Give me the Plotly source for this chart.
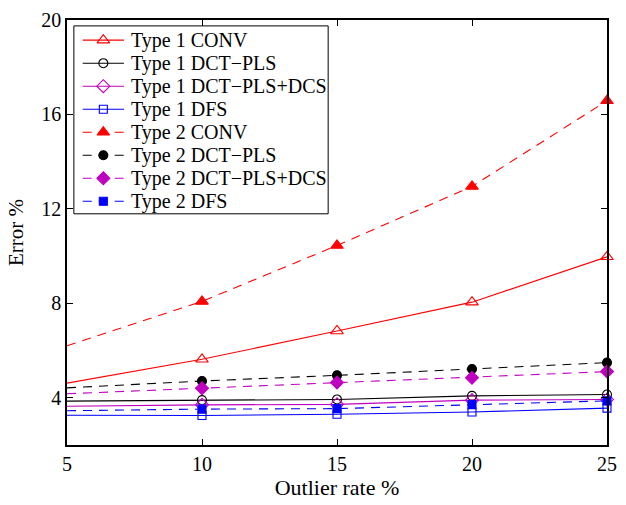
import plotly.graph_objects as go

# Outlier rate (%) on the x axis
outlier_rate = [5, 10, 15, 20, 25]

# Error (%) per method; markers are shown from 10 % onwards
t1_conv = [4.62, 5.63, 6.83, 8.05, 9.97]
t1_dct_pls = [3.86, 3.90, 3.93, 4.08, 4.14]
t1_dct_pls_dcs = [3.64, 3.70, 3.72, 3.90, 3.93]
t1_dfs = [3.26, 3.25, 3.30, 3.40, 3.56]
t2_conv = [6.20, 8.08, 10.45, 12.95, 16.58]
t2_dct_pls = [4.42, 4.71, 4.95, 5.22, 5.49]
t2_dct_pls_dcs = [4.17, 4.40, 4.65, 4.85, 5.11]
t2_dfs = [3.45, 3.52, 3.54, 3.71, 3.87]

RED = "#ff0000"
BLACK = "#000000"
MAGENTA = "#bf00bf"
BLUE = "#0000ff"
DASH = "9px,7px"
SERIF = "Liberation Serif, Times New Roman, Times, DejaVu Serif, serif"

series = [
    ("Type 1 CONV", t1_conv, RED, "solid", "triangle-up-open", 11),
    ("Type 1 DCT\u2212PLS", t1_dct_pls, BLACK, "solid", "circle-open", 9),
    ("Type 1 DCT\u2212PLS+DCS", t1_dct_pls_dcs, MAGENTA, "solid", "diamond-open", 10),
    ("Type 1 DFS", t1_dfs, BLUE, "solid", "square-open", 8),
    ("Type 2 CONV", t2_conv, RED, DASH, "triangle-up", 11),
    ("Type 2 DCT\u2212PLS", t2_dct_pls, BLACK, DASH, "circle", 9),
    ("Type 2 DCT\u2212PLS+DCS", t2_dct_pls_dcs, MAGENTA, DASH, "diamond", 10),
    ("Type 2 DFS", t2_dfs, BLUE, DASH, "square", 8),
]

# Figure geometry (pixels)
W, H = 626, 505
L, R, T, B = 67, 9, 15, 58

fig = go.Figure()
for name, ys, color, dash, symbol, size in series:
    # full line, including the 5 % point
    fig.add_trace(go.Scatter(
        x=outlier_rate, y=ys, mode="lines", showlegend=False,
        line=dict(color=color, width=1.1, dash=dash), hoverinfo="skip",
    ))
    # markers from 10 % onwards
    fig.add_trace(go.Scatter(
        x=outlier_rate[1:], y=ys[1:], mode="markers", name=name,
        showlegend=False, cliponaxis=False,
        marker=dict(symbol=symbol, size=size, color=color,
                    line=dict(color=color, width=1.1)),
    ))

# Legend box drawn on an overlay axis measured in pixels, so that the
# row spacing can be kept compact.
LEG_LEFT, LEG_RIGHT, LEG_TOP, LEG_BOTTOM = 74, 333, 21, 212
ROW0, ROW_STEP = 35.5, 23.4
SAMPLE_X0, SAMPLE_X1, TEXT_X = 83, 125, 130

fig.add_trace(go.Scatter(
    x=[LEG_LEFT, LEG_RIGHT, LEG_RIGHT, LEG_LEFT, LEG_LEFT],
    y=[LEG_TOP, LEG_TOP, LEG_BOTTOM, LEG_BOTTOM, LEG_TOP],
    xaxis="x2", yaxis="y2", mode="lines", fill="toself",
    fillcolor="white", line=dict(color="black", width=1),
    showlegend=False, hoverinfo="skip",
))

annotations = []
for i, (name, ys, color, dash, symbol, size) in enumerate(series):
    yrow = ROW0 + i * ROW_STEP
    fig.add_trace(go.Scatter(
        x=[SAMPLE_X0, SAMPLE_X1], y=[yrow, yrow], xaxis="x2", yaxis="y2",
        mode="lines", line=dict(color=color, width=1.1, dash=dash),
        showlegend=False, hoverinfo="skip",
    ))
    fig.add_trace(go.Scatter(
        x=[(SAMPLE_X0 + SAMPLE_X1) / 2], y=[yrow], xaxis="x2", yaxis="y2",
        mode="markers", showlegend=False, hoverinfo="skip",
        marker=dict(symbol=symbol, size=size, color=color,
                    line=dict(color=color, width=1.1)),
    ))
    annotations.append(dict(
        x=TEXT_X, y=yrow, xref="x2", yref="y2", text=name, showarrow=False,
        xanchor="left", yanchor="middle",
        font=dict(family=SERIF, size=20, color="black"),
    ))

axis_common = dict(
    showline=True, linecolor="black", linewidth=1.5, mirror="ticks",
    ticks="inside", ticklen=6, tickwidth=1, tickcolor="black",
    showgrid=False, zeroline=False,
    tickfont=dict(family=SERIF, size=20, color="black"),
)

fig.update_layout(
    width=W, height=H,
    margin=dict(l=L, r=R, t=T, b=B),
    paper_bgcolor="white", plot_bgcolor="white",
    font=dict(family=SERIF, size=20, color="black"),
    showlegend=False,
    xaxis=dict(range=[5, 25], tickvals=outlier_rate,
               title=dict(text="Outlier rate %", standoff=6,
                          font=dict(family=SERIF, size=22)),
               **axis_common),
    yaxis=dict(range=[2, 20], tickvals=[4, 8, 12, 16, 20],
               title=dict(text="Error %", standoff=12,
                          font=dict(family=SERIF, size=21)),
               **axis_common),
    xaxis2=dict(overlaying="x", range=[L, W - R], visible=False,
                fixedrange=True),
    yaxis2=dict(overlaying="y", range=[H - B, T], visible=False,
                fixedrange=True),
    annotations=annotations,
)

fig.write_html("out.html")
